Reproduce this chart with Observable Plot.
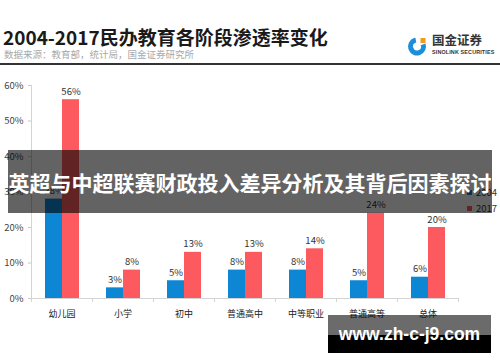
<!DOCTYPE html>
<html>
<head>
<meta charset="utf-8">
<script src="https://cdn.jsdelivr.net/npm/d3@7"></script>
<script src="https://cdn.jsdelivr.net/npm/@observablehq/plot@0.6"></script>
<style>
  html, body { margin: 0; padding: 0; background: #fff; }
  #wrap { position: relative; width: 500px; height: 362px; overflow: hidden; font-family: "Noto Sans CJK SC", sans-serif; }
  #chart { position: absolute; left: 0; top: 0; }
  .abs { position: absolute; white-space: nowrap; }
  #title { left: 3px; top: 27px; font-size: 19px; line-height: 19px; font-weight: 700; color: #1a1a1a; }
  #subtitle { left: 4px; top: 48.5px; font-size: 9.5px; line-height: 10px; color: #a8a8a8; }
  #rule { left: 0; top: 63px; width: 500px; height: 2px; background: #333; }
  #logoText { left: 432px; top: 33px; font-size: 12.5px; line-height: 14px; font-weight: 700; color: #333; }
  #logoSub { left: 432px; top: 49px; font-size: 5.4px; line-height: 6px; font-weight: 700; color: #333; font-family: "Liberation Sans", sans-serif; letter-spacing: 0.15px; }
  #logoIcon { left: 406px; top: 35px; }
  #legend { left: 467px; top: 184px; font-size: 9.5px; line-height: 16px; color: #333; }
  #legend div { display: flex; align-items: center; }
  #legend span.sw { display: inline-block; width: 5px; height: 5px; margin-right: 4px; }
  #banner { left: 8px; top: 150px; width: 484px; height: 63px; background: rgba(0,0,0,0.61); color: #fff; font-size: 21px; font-weight: 700; display: flex; align-items: center; justify-content: center; padding-top: 1px; box-sizing: border-box; }
  #mark { left: 328px; top: 315px; width: 163px; height: 38px; background: linear-gradient(to bottom, rgba(0,0,0,0.58) 0px, rgba(0,0,0,0.58) 20px, #000 20px, #000 38px); color: #fff; font-family: "Liberation Sans", sans-serif; font-weight: 700; font-size: 17.5px; line-height: 38px; text-align: center; }
  #chart [aria-label^="fx-axis"] text { font-size: 9px; }
</style>
</head>
<body>
<div id="wrap">
  <div id="chart"></div>
  <div class="abs" id="title">2004-2017民办教育各阶段渗透率变化</div>
  <div class="abs" id="subtitle">数据来源：教育部，统计局，国金证券研究所</div>
  <div class="abs" id="rule"></div>
  <svg class="abs" id="logoIcon" width="24" height="22" viewBox="0 0 24 22">
    <circle cx="11" cy="11.5" r="6.5" fill="none" stroke="#1b8fd9" stroke-width="5" stroke-dasharray="31 10" transform="rotate(-20 11 11.5)"/>
    <rect x="14.5" y="3" width="5" height="5" fill="#f39a1e"/>
  </svg>
  <div class="abs" id="logoText">国金证券</div>
  <div class="abs" id="logoSub">SINOLINK SECURITIES</div>
  <div class="abs" id="legend"></div>
  <div class="abs" id="banner">英超与中超联赛财政投入差异分析及其背后因素探讨</div>
  <div class="abs" id="mark">www.zh-c-j9.com</div>
</div>
<script>
// ---- data ----
const categories = ["幼儿园", "小学", "初中", "普通高中", "中等职业", "普通高等", "总体"];
const years = ["2004", "2017"];
const values2004 = [0.28, 0.03, 0.05, 0.08, 0.08, 0.05, 0.06];
const values2017 = [0.56, 0.08, 0.13, 0.13, 0.14, 0.24, 0.20];
const yTicks = [0, 0.1, 0.2, 0.3, 0.4, 0.5, 0.6];
const colors = ["#0d87d4", "#fd5a5f"];

const rows = categories.flatMap((c, i) => [
  {category: c, year: years[0], value: values2004[i]},
  {category: c, year: years[1], value: values2017[i]}
]);
const pct = d => Math.round(d * 100) + "%";
const FONT = '"Noto Sans CJK SC", sans-serif';

// y-axis line + category separators, drawn from the plot's own dimensions / fx scale
function axisLines(index, scales, values, dims) {
  const {width, height, marginTop, marginRight, marginBottom, marginLeft} = dims;
  const left = marginLeft, right = width - marginRight, bottom = height - marginBottom;
  const g = d3.create("svg:g").attr("stroke", "#d4d4d4").attr("stroke-width", 1);
  g.append("line").attr("x1", left + 0.5).attr("x2", left + 0.5).attr("y1", marginTop).attr("y2", bottom);
  const fx = scales.fx;
  let edges;
  if (fx && fx.bandwidth) {
    edges = categories.map(c => fx(c));
    edges.push(fx(categories[categories.length - 1]) + fx.bandwidth());
  } else {
    const step = (right - left) / categories.length;
    edges = d3.range(categories.length + 1).map(i => left + i * step);
  }
  for (const e of edges) {
    g.append("line").attr("x1", Math.round(e) + 0.5).attr("x2", Math.round(e) + 0.5).attr("y1", bottom).attr("y2", bottom + 4);
  }
  return g.node();
}

const chart = Plot.plot({
  width: 500,
  height: 362,
  marginTop: 85,
  marginRight: 42,
  marginBottom: 64,
  marginLeft: 30,
  style: {fontFamily: FONT, fontSize: "9.5px", background: "transparent", color: "#333", overflow: "visible"},
  fx: {domain: categories, padding: 0, label: null},
  x: {domain: years, paddingInner: 0, paddingOuter: 0.76, axis: null},
  y: {domain: [0, 0.6], label: null},
  color: {domain: years, range: colors},
  marks: [
    Plot.axisY({ticks: yTicks, tickFormat: pct, tickSize: 3, tickPadding: 5, stroke: "#c8c8c8", fill: "#444", label: null}),
    Plot.axisFx({anchor: "bottom", tickSize: 0, tickPadding: 12, fill: "#222", label: null}),
    Plot.ruleY([0], {stroke: "#d4d4d4"}),
    Plot.barY(rows, {fx: "category", x: "year", y: "value", fill: "year"}),
    Plot.text(rows, {fx: "category", x: "year", y: "value", text: d => pct(d.value), lineAnchor: "bottom", dy: -5, fill: "#333"}),
    Plot.frame({facet: "super", stroke: "none", render: axisLines})
  ]
});
document.getElementById("chart").append(chart);

// legend
const legend = document.getElementById("legend");
years.forEach((y, i) => {
  const row = document.createElement("div");
  row.innerHTML = `<span class="sw" style="background:${colors[i]}"></span>${y}`;
  legend.append(row);
});
</script>
</body>
</html>
